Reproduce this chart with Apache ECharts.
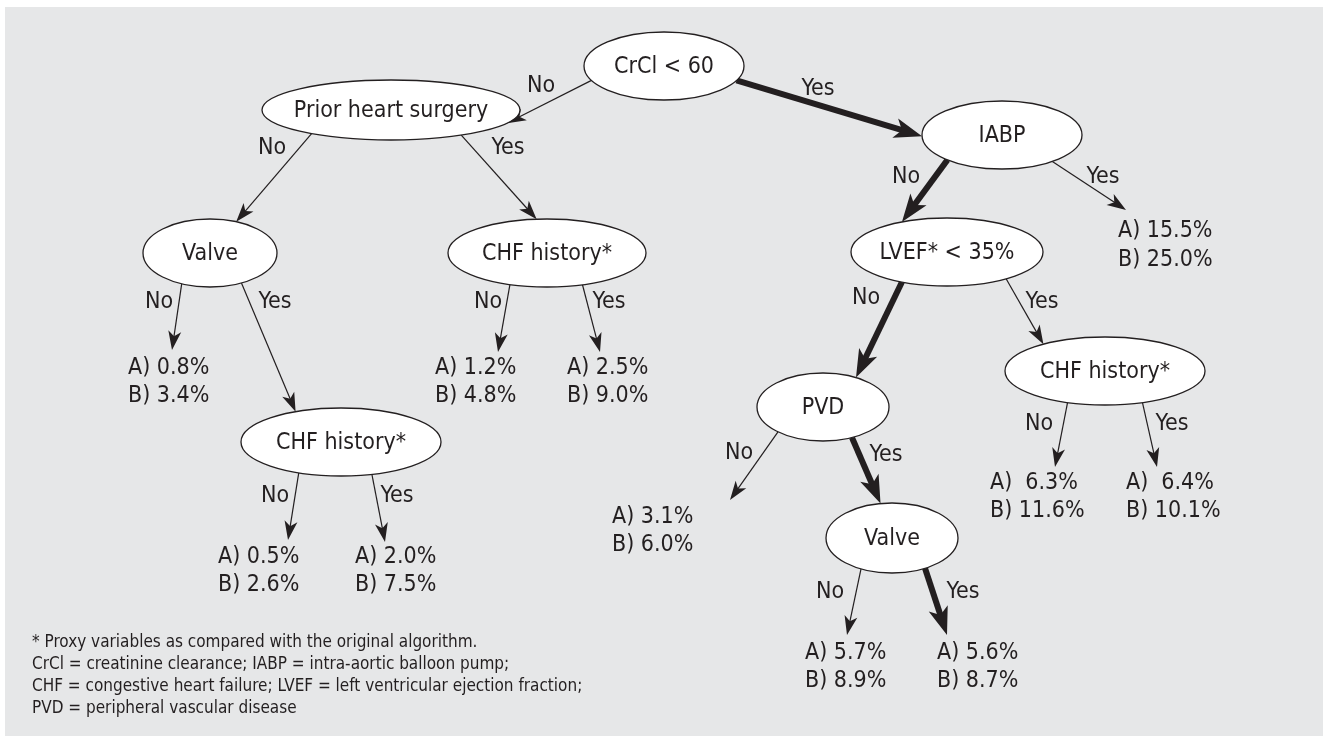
<!DOCTYPE html>
<html>
<head>
<meta charset="utf-8">
<title>CrCl risk tree</title>
<script src="https://cdn.jsdelivr.net/npm/echarts@6/dist/echarts.min.js"></script>
<style>
  html, body { margin: 0; padding: 0; background: #fff; }
  #main { width: 1323px; height: 736px; }
</style>
</head>
<body>
<div id="main"></div>
<script>
// ---- data ----
const nodeLabels = ['CrCl < 60', 'Prior heart surgery', 'IABP', 'Valve', 'CHF history*',
  'LVEF* < 35%', 'CHF history*', 'PVD', 'CHF history*', 'Valve'];
const leafA = ['15.5%', '0.8%', '1.2%', '2.5%', '0.5%', '2.0%', '3.1%', ' 6.3%', ' 6.4%', '5.7%', '5.6%'];
const leafB = ['25.0%', '3.4%', '4.8%', '9.0%', '2.6%', '7.5%', '6.0%', '11.6%', '10.1%', '8.9%', '8.7%'];
// edges: source node -> target ('n' = node, 'l' = leaf), answer, on the bold path
const edgeFrom = [0, 0, 1, 1, 2, 2, 3, 3, 4, 4, 5, 5, 6, 6, 7, 7, 8, 8, 9, 9];
const edgeTo = ['n1', 'n2', 'n3', 'n4', 'n5', 'l0', 'l1', 'n8', 'l2', 'l3',
  'n7', 'n6', 'l7', 'l8', 'l6', 'n9', 'l4', 'l5', 'l9', 'l10'];
const edgeAnswer = ['No', 'Yes', 'No', 'Yes', 'No', 'Yes', 'No', 'Yes', 'No', 'Yes',
  'No', 'Yes', 'No', 'Yes', 'No', 'Yes', 'No', 'Yes', 'No', 'Yes'];
const edgeBold = [0, 1, 0, 0, 1, 0, 0, 0, 0, 0, 1, 0, 0, 0, 0, 1, 0, 0, 0, 1];
const footnotes = [
  '* Proxy variables as compared with the original algorithm.',
  'CrCl = creatinine clearance; IABP = intra-aortic balloon pump;',
  'CHF = congestive heart failure; LVEF = left ventricular ejection fraction;',
  'PVD = peripheral vascular disease'
];

// ---- layout (diagram units) ----
const nodePos = [[664, 66], [391, 110], [1002, 135], [210, 253], [547, 253],
  [947, 252], [1105, 371], [823, 407], [341, 442], [892, 538]];
const nodeRad = [[80, 34], [129, 30], [80, 34], [67, 34], [99, 34],
  [96, 34], [100, 34], [66, 34], [100, 34], [66, 35]];
const leafTip = [[1126, 210], [172, 350], [498, 352], [600, 352], [288, 540], [385, 542],
  [730, 500], [1055, 467], [1157, 467], [847, 635], [947, 635]];
const leafText = [[1118, 231], [128, 368], [435, 368], [567, 368], [218, 557], [355, 557],
  [612, 517], [990, 483], [1126, 483], [805, 653], [937, 653]];
const edgeStartDeg = [155, 25, 128, 57, 133, 51, 115, 62, 112, 69, 118, 52, 112, 68, 133, 64, 115, 72, 118, 60];
const edgeEndDeg = [26, 178, -67, -96, -118, null, null, -117, null, null, -60, -128, null, null, null, -100, null, null, null, null];
const edgeLabelPos = [[541, 86], [818, 89], [272, 148], [508, 148], [906, 177], [1103, 177],
  [159, 302], [275, 302], [488, 302], [609, 302], [866, 298], [1042, 302], [1039, 424],
  [1172, 424], [739, 453], [886, 455], [275, 496], [397, 496], [830, 592], [963, 592]];

const INK = '#231f20';
const FONT = "'Liberation Sans Narrow', 'Arial Narrow', 'DejaVu Sans Condensed', sans-serif";

function ellipsePoint(i, deg) {
  const a = deg * Math.PI / 180;
  return [nodePos[i][0] + nodeRad[i][0] * Math.cos(a), nodePos[i][1] + nodeRad[i][1] * Math.sin(a)];
}
function edgeEnd(k) {
  const t = edgeTo[k];
  const idx = +t.slice(1);
  return t[0] === 'n' ? ellipsePoint(idx, edgeEndDeg[k]) : leafTip[idx];
}

const chart = echarts.init(document.getElementById('main'));

const option = {
  backgroundColor: '#ffffff',
  animation: false,
  grid: { left: 5, top: 7, right: 0, bottom: 0, show: true, backgroundColor: '#e6e7e8', borderWidth: 0 },
  xAxis: { type: 'value', min: 5, max: 1323, show: false },
  yAxis: { type: 'value', min: 7, max: 736, inverse: true, show: false },
  graphic: footnotes.map((t, i) => ({
    type: 'text', left: 32, top: 634 + i * 22,
    style: { text: t, fill: INK, font: '17px ' + FONT }
  })),
  series: [
    {
      // arrows + yes/no labels
      type: 'custom',
      coordinateSystem: 'cartesian2d',
      data: edgeFrom.map((f, i) => [i]),
      z: 2,
      renderItem: function (params, api) {
        const k = params.dataIndex;
        const s = api.coord(ellipsePoint(edgeFrom[k], edgeStartDeg[k]));
        const e = api.coord(edgeEnd(k));
        const bold = edgeBold[k] === 1;
        const dx = e[0] - s[0], dy = e[1] - s[1];
        const len = Math.sqrt(dx * dx + dy * dy);
        const ux = dx / len, uy = dy / len;
        const L = bold ? 28 : 19, W = bold ? 10 : 6.5, N = bold ? 7 : 5;
        const bx = e[0] - ux * L, by = e[1] - uy * L;
        const nx = e[0] - ux * (L - N), ny = e[1] - uy * (L - N);
        const lp = api.coord(edgeLabelPos[k]);
        return {
          type: 'group',
          children: [
            {
              type: 'line',
              shape: { x1: s[0], y1: s[1], x2: nx + ux, y2: ny + uy },
              style: { stroke: INK, lineWidth: bold ? 6 : 1.2, lineCap: 'butt' }
            },
            {
              type: 'polygon',
              shape: { points: [e, [bx - uy * W, by + ux * W], [nx, ny], [bx + uy * W, by - ux * W]] },
              style: { fill: INK }
            },
            {
              type: 'text', x: lp[0], y: lp[1],
              style: { text: edgeAnswer[k], fill: INK, font: '23px ' + FONT, align: 'center', verticalAlign: 'middle' }
            }
          ]
        };
      }
    },
    {
      // decision nodes
      type: 'custom',
      coordinateSystem: 'cartesian2d',
      data: nodeLabels.map((n, i) => [nodePos[i][0], nodePos[i][1]]),
      z: 3,
      renderItem: function (params, api) {
        const i = params.dataIndex;
        const c = api.coord([api.value(0), api.value(1)]);
        const r = api.size(nodeRad[i]);
        return {
          type: 'group',
          children: [
            {
              type: 'ellipse',
              shape: { cx: c[0], cy: c[1], rx: r[0], ry: r[1] },
              style: { fill: '#ffffff', stroke: INK, lineWidth: 1.3 }
            },
            {
              type: 'text', x: c[0], y: c[1] + 1,
              style: { text: nodeLabels[i], fill: INK, font: '23px ' + FONT, align: 'center', verticalAlign: 'middle' }
            }
          ]
        };
      }
    },
    {
      // outcome leaves
      type: 'custom',
      coordinateSystem: 'cartesian2d',
      data: leafA.map((a, i) => [leafText[i][0], leafText[i][1]]),
      z: 3,
      renderItem: function (params, api) {
        const i = params.dataIndex;
        const p = api.coord([api.value(0), api.value(1)]);
        const gap = api.size([0, i === 0 ? 29 : 28])[1];
        return {
          type: 'group',
          children: [
            {
              type: 'text', x: p[0], y: p[1],
              style: { text: 'A) ' + leafA[i], fill: INK, font: '23px ' + FONT, align: 'left', verticalAlign: 'middle' }
            },
            {
              type: 'text', x: p[0], y: p[1] + gap,
              style: { text: 'B) ' + leafB[i], fill: INK, font: '23px ' + FONT, align: 'left', verticalAlign: 'middle' }
            }
          ]
        };
      }
    }
  ]
};

chart.setOption(option);
</script>
</body>
</html>
